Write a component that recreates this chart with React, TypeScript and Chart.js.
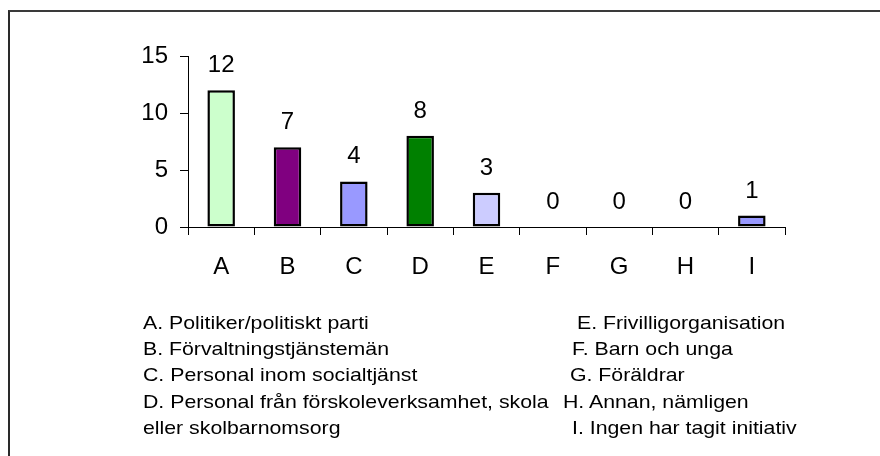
import React, { useEffect, useRef } from "react";
import { Chart, registerables } from "chart.js";

Chart.register(...registerables);

const categories = ["A", "B", "C", "D", "E", "F", "G", "H", "I"];
const values = [12, 7, 4, 8, 3, 0, 0, 0, 1];
const barColors = ["#CCFFCC", "#800080", "#9999FF", "#008000", "#CCCCFF", "#FFFFCC", "#CCFFFF", "#FF8080", "#9999FF"];
const yTicks = [0, 5, 10, 15];

const legendLeft = [
  "A. Politiker/politiskt parti",
  "B. Förvaltningstjänstemän",
  "C. Personal inom socialtjänst",
  "D. Personal från förskoleverksamhet, skola",
  "eller skolbarnomsorg",
];
const legendRight = [
  "E. Frivilligorganisation",
  "F. Barn och unga",
  "G. Föräldrar",
  "H. Annan, nämligen",
  "I.  Ingen har tagit initiativ",
];
const rightX = [577, 572, 570, 563, 572];
const rowTops = [312.6, 338.6, 364.6, 391.6, 417.6];

const FONT = "'Liberation Sans', Arial, sans-serif";

const valueLabels = {
  id: "valueLabels",
  afterDatasetsDraw(chart: any) {
    const { ctx } = chart;
    const meta = chart.getDatasetMeta(0);
    ctx.save();
    ctx.font = `24px ${FONT}`;
    ctx.fillStyle = "#000";
    ctx.textAlign = "center";
    ctx.textBaseline = "alphabetic";
    meta.data.forEach((bar: any, i: number) => {
      ctx.fillText(String(values[i]), bar.x, bar.y - 18);
    });
    ctx.restore();
  },
};

export default function App() {
  const ref = useRef<HTMLCanvasElement | null>(null);

  useEffect(() => {
    if (!ref.current) return;
    const chart = new Chart(ref.current, {
      type: "bar",
      data: {
        labels: categories,
        datasets: [
          {
            data: values,
            backgroundColor: barColors,
            borderColor: "#000",
            borderWidth: (c: any) => (values[c.dataIndex] === 0 ? 0 : 2.5),
            borderSkipped: false,
            categoryPercentage: 1,
            barPercentage: 0.415,
          },
        ],
      },
      options: {
        responsive: false,
        animation: false,
        devicePixelRatio: 1,
        layout: { padding: { left: 0, top: 56, right: 95, bottom: 0 } },
        plugins: { legend: { display: false }, tooltip: { enabled: false } },
        scales: {
          x: {
            offset: true,
            grid: {
              display: true,
              offset: true,
              drawOnChartArea: false,
              drawTicks: true,
              tickLength: 8,
              color: "#000",
            },
            border: { display: true, color: "#000", width: 1 },
            ticks: { color: "#000", font: { family: FONT, size: 24 }, padding: 18, maxRotation: 0 },
            afterFit: (s: any) => {
              s.height = 229;
            },
          },
          y: {
            min: 0,
            max: 15,
            afterBuildTicks: (s: any) => {
              s.ticks = yTicks.map((v) => ({ value: v }));
            },
            grid: {
              display: true,
              drawOnChartArea: false,
              drawTicks: true,
              tickLength: 8,
              color: "#000",
            },
            border: { display: true, color: "#000", width: 1 },
            ticks: { color: "#000", font: { family: FONT, size: 24 }, padding: 12 },
            afterFit: (s: any) => {
              s.width = 188;
            },
          },
        },
      },
      plugins: [valueLabels],
    });
    return () => chart.destroy();
  }, []);

  const textStyle = (left: number, top: number): React.CSSProperties => ({
    position: "absolute",
    left,
    top,
    fontFamily: FONT,
    fontSize: "18.5px",
    lineHeight: "20px",
    whiteSpace: "nowrap",
    color: "#000",
    transform: "scaleX(1.15)",
    transformOrigin: "left top",
  });

  return (
    <div style={{ position: "absolute", left: 0, top: 0, width: 880, height: 456, background: "#fff", overflow: "hidden" }}>
      <div
        style={{
          position: "absolute",
          left: 8,
          top: 10,
          width: 900,
          height: 500,
          borderLeft: "2px solid #2a2a2a",
          borderTop: "2px solid #3a3a3a",
        }}
      />
      <canvas ref={ref} width={880} height={456} style={{ position: "absolute", left: 0, top: 0, width: 880, height: 456 }} />
      {legendLeft.map((t, i) => (
        <div key={"l" + i} style={textStyle(143, rowTops[i])}>{t}</div>
      ))}
      {legendRight.map((t, i) => (
        <div key={"r" + i} style={textStyle(rightX[i], rowTops[i])}>{t}</div>
      ))}
    </div>
  );
}
